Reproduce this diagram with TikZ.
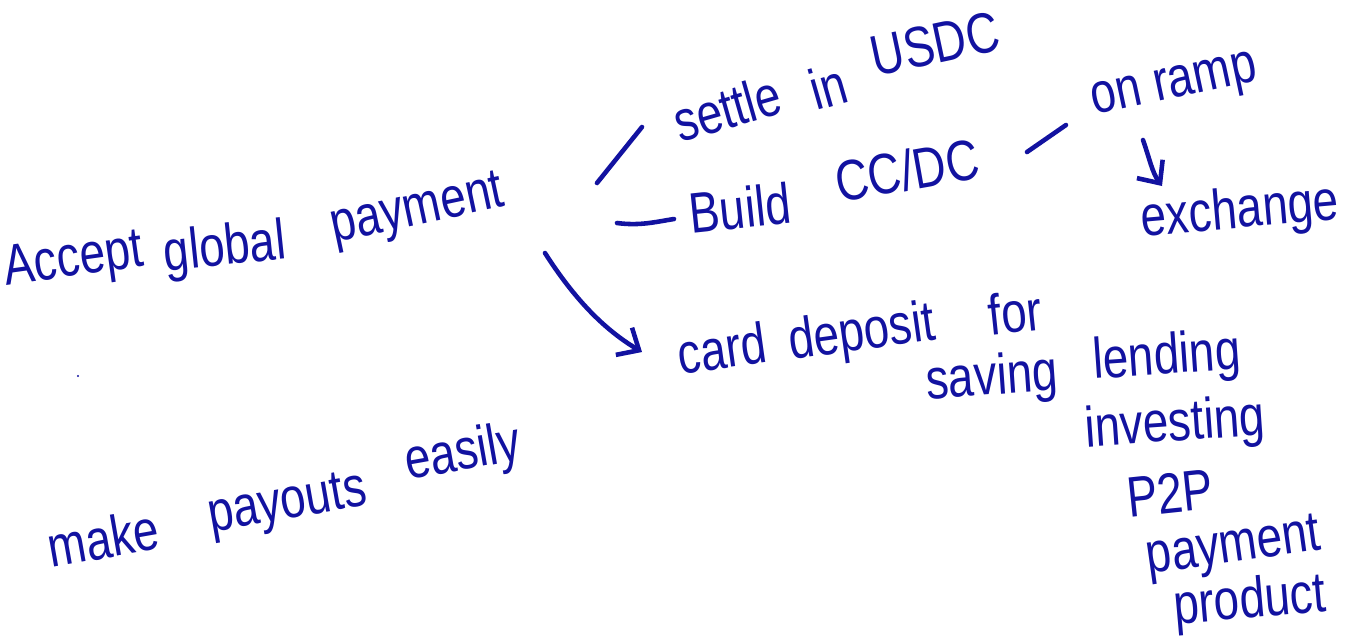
\documentclass[tikz,border=0pt]{standalone}
\usepackage{fontspec}
\setmainfont{Liberation Sans}
\usetikzlibrary{arrows.meta}
\definecolor{ink}{RGB}{18,18,160}
\newcommand{\tall}[1]{\scalebox{1}[1.25]{#1}}
\begin{document}
\begin{tikzpicture}[x=0.01cm,y=-0.01cm,
  hw/.style={text=ink, inner sep=0pt, anchor=center, font=\fontsize{13}{15}\selectfont},
  pen/.style={draw=ink, line width=1.3pt, line cap=round, line join=round},
  tip/.style={-{Straight Barb[length=5pt,width=9pt,line width=1.3pt]}}]
\useasboundingbox (0,0) rectangle (1362,641);
% Accept global payment
\node[hw, rotate=8]  (accA) at (74,262)  {\tall{Accept}};
\node[hw, rotate=6]  (accG) at (225,250) {\tall{global}};
\node[hw, rotate=12] (accP) at (418,212) {\tall{payment}};
% settle in USDC
\node[hw, rotate=16] (setS) at (727,108) {\tall{settle}};
\node[hw, rotate=16] (setI) at (828,86)  {\tall{in}};
\node[hw, rotate=12] (setU) at (935,44)  {\tall{USDC}};
% Build CC/DC
\node[hw, rotate=6]  (bldB) at (740,208) {\tall{Build}};
\node[hw, rotate=10] (bldC) at (907,170) {\tall{CC/DC}};
% on ramp / exchange
\node[hw, rotate=12] (onramp) at (1175,88) {\tall{on ramp}};
\node[hw, rotate=5]  (exch)   at (1240,213){\tall{exchange}};
% card deposit for saving lending investing
\node[hw, rotate=8]  (cardC) at (722,348) {\tall{card}};
\node[hw, rotate=8]  (cardD) at (862,335) {\tall{deposit}};
\node[hw, rotate=6]  (cardF) at (1015,312){\tall{for}};
\node[hw, rotate=4]  (savS)  at (992,380) {\tall{saving}};
\node[hw, rotate=4]  (savL)  at (1167,359){\tall{lending}};
\node[hw, rotate=4]  (invest) at (1175,426){\tall{investing}};
% make payouts easily
\node[hw, rotate=10] (mkM) at (103,538) {\tall{make}};
\node[hw, rotate=10] (mkP) at (288,506) {\tall{payouts}};
\node[hw, rotate=10] (mkE) at (463,455) {\tall{easily}};
% P2P payment product
\node[hw, rotate=6]  (ptp)  at (1170,493){\tall{P2P}};
\node[hw, rotate=8]  (paym) at (1234,549){\tall{payment}};
\node[hw, rotate=5]  (prod) at (1250,603){\tall{product}};
% connector end points
\coordinate (a1) at (597,183); \coordinate (s1) at (642,127);
\coordinate (a2) at (617,223); \coordinate (b1) at (674,219);
\coordinate (a3) at (545,253); \coordinate (c1) at (642,352);
\coordinate (b2) at (1027,152); \coordinate (o1) at (1066,125);
\coordinate (o2) at (1143,140); \coordinate (e1) at (1162,186);
% connectors
\draw[pen] (a1) -- (s1);
\draw[pen] (a2) .. controls (640,226) and (655,222) .. (b1);
\draw[pen, tip] (a3) .. controls (575,300) and (605,330) .. (c1);
\draw[pen] (b2) -- (o1);
\draw[pen, tip] (o2) .. controls (1150,160) and (1152,172) .. (e1);
% stray dot
\fill[ink] (78,376) circle (1.2);
\end{tikzpicture}
\end{document}
